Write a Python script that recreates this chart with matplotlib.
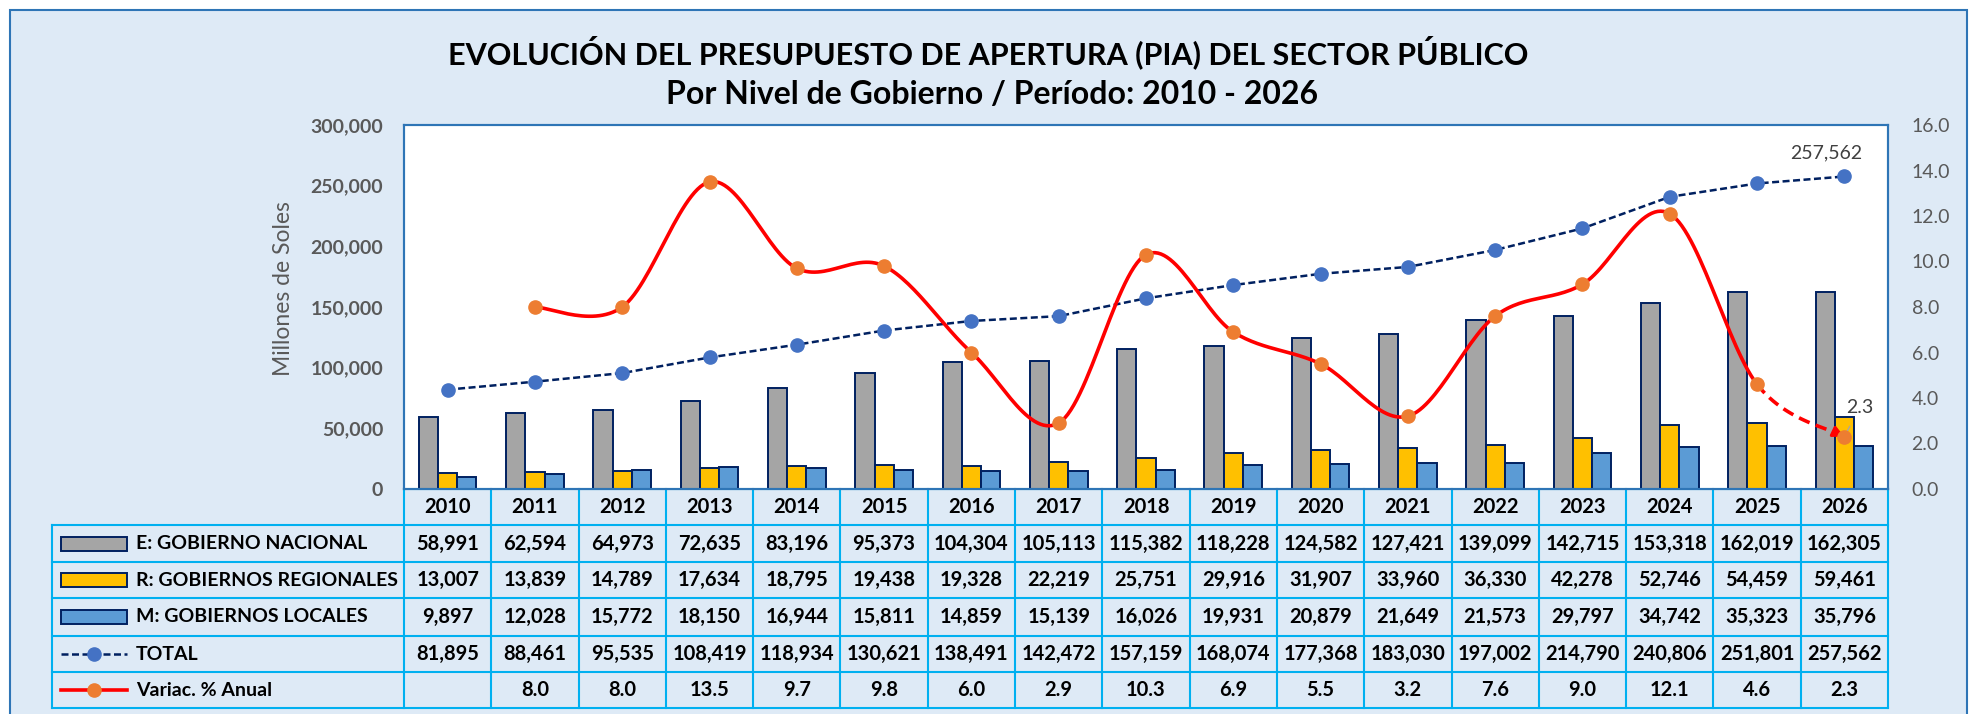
import numpy as np
import matplotlib
matplotlib.use('Agg')
import matplotlib.pyplot as plt
from matplotlib import transforms, font_manager
from matplotlib.patches import Rectangle

# data
years = [2010, 2011, 2012, 2013, 2014, 2015, 2016, 2017, 2018,
         2019, 2020, 2021, 2022, 2023, 2024, 2025, 2026]
nacional = [58991, 62594, 64973, 72635, 83196, 95373, 104304, 105113, 115382,
            118228, 124582, 127421, 139099, 142715, 153318, 162019, 162305]
regional = [13007, 13839, 14789, 17634, 18795, 19438, 19328, 22219, 25751,
            29916, 31907, 33960, 36330, 42278, 52746, 54459, 59461]
locales = [9897, 12028, 15772, 18150, 16944, 15811, 14859, 15139, 16026,
           19931, 20879, 21649, 21573, 29797, 34742, 35323, 35796]
total = [81895, 88461, 95535, 108419, 118934, 130621, 138491, 142472, 157159,
         168074, 177368, 183030, 197002, 214790, 240806, 251801, 257562]
variac = [None, 8.0, 8.0, 13.5, 9.7, 9.8, 6.0, 2.9, 10.3,
          6.9, 5.5, 3.2, 7.6, 9.0, 12.1, 4.6, 2.3]

row_labels = ['E: GOBIERNO NACIONAL', 'R: GOBIERNOS REGIONALES',
              'M: GOBIERNOS LOCALES', 'TOTAL', 'Variac. % Anual']

GRAY = '#A5A5A5'
YELLOW = '#FFC000'
BLUE = '#5B9BD5'
NAVY = '#002060'
MARK_BLUE = '#4472C4'
ORANGE = '#ED7D31'
BG = '#DEEAF6'
FRAME = '#2E75B6'
GRID = '#00B0F0'
TXT = '#595959'

names = {f.name for f in font_manager.fontManager.ttflist}
FONT = 'Liberation Sans Narrow' if 'Liberation Sans Narrow' in names else 'Lato'
plt.rcParams['font.family'] = [FONT, 'DejaVu Sans']

W, H = 1971, 714
fig = plt.figure(figsize=(W / 100, H / 100), dpi=100)

# pixel-space background layer
bg = fig.add_axes([0, 0, 1, 1], zorder=0)
bg.set_xlim(0, W)
bg.set_ylim(H, 0)
bg.axis('off')
bg.add_patch(Rectangle((10, 10), 1957, 720, facecolor=BG, edgecolor=FRAME, lw=1.5))

# plot area
L, R, T, B = 404, 1888, 125, 489
ax = fig.add_axes([L / W, 1 - B / H, (R - L) / W, (B - T) / H], zorder=1)
ax.set_facecolor('white')
x = np.arange(len(years))
w = 0.22
ax.bar(x - w, nacional, w, color=GRAY, edgecolor=NAVY, lw=1.4, zorder=2)
ax.bar(x, regional, w, color=YELLOW, edgecolor=NAVY, lw=1.4, zorder=2)
ax.bar(x + w, locales, w, color=BLUE, edgecolor=NAVY, lw=1.4, zorder=2)
ax.plot(x, total, color=NAVY, lw=1.8, dashes=(2.8, 1.4), marker='o', ms=9.5,
        mfc=MARK_BLUE, mec=MARK_BLUE, zorder=3)
ax.annotate('{:,}'.format(total[-1]), (x[-1], total[-1]), xytext=(-13, 17),
            textcoords='offset points', ha='center', va='center',
            fontsize=14, color='#404040')

ax.set_xlim(-0.5, len(years) - 0.5)
ax.set_ylim(0, 300000)
ax.set_yticks(np.arange(0, 300001, 50000))
ax.set_yticklabels(['{:,}'.format(v) for v in range(0, 300001, 50000)],
                   fontsize=14, fontweight='bold', color=TXT)
ax.set_xticks([])
ax.tick_params(axis='y', length=0, pad=15)
for s in ax.spines.values():
    s.set_color(FRAME)
    s.set_linewidth(1.5)

# variation curve (smoothed like the spreadsheet line)
ax2 = ax.twinx()
vx = np.array([i for i, v in enumerate(variac) if v is not None], dtype=float)
vy = np.array([v for v in variac if v is not None], dtype=float)
P = np.column_stack([vx, vy])
n = len(P)
t = np.linspace(0, 1, 30)[:, None]
segs = []
for i in range(n - 1):
    p0 = P[max(i - 1, 0)]
    p1 = P[i]
    p2 = P[i + 1]
    p3 = P[min(i + 2, n - 1)]
    c1 = p1 + (p2 - p0) / 6
    c2 = p2 - (p3 - p1) / 6
    seg = ((1 - t) ** 3) * p1 + 3 * ((1 - t) ** 2) * t * c1 + 3 * (1 - t) * t ** 2 * c2 + t ** 3 * p2
    segs.append(seg)
solid = np.vstack(segs[:-1])
ax2.plot(solid[:, 0], solid[:, 1], color='red', lw=2.6, zorder=3)
last = segs[-1]
ax2.plot(last[:-4, 0], last[:-4, 1], color='red', lw=2.6, dashes=(3.2, 1.8), zorder=3)
ax2.annotate('', xy=last[-1], xytext=last[-5],
             arrowprops=dict(arrowstyle='-|>', color='red', lw=2.2,
                             mutation_scale=16, shrinkA=0, shrinkB=0))
ax2.plot(vx, vy, ls='none', marker='o', ms=9.5, mfc=ORANGE, mec=ORANGE, zorder=4)
ax2.annotate('{:.1f}'.format(vy[-1]), (vx[-1], vy[-1]), xytext=(11, 21),
             textcoords='offset points', ha='center', va='center',
             fontsize=14, color='#404040',
             arrowprops=dict(arrowstyle='-', color='#A6A6A6', lw=1,
                             shrinkA=6, shrinkB=2))
ax2.set_ylim(0, 16)
ax2.set_yticks(np.arange(0, 16.1, 2))
ax2.set_yticklabels(['{:.1f}'.format(v) for v in np.arange(0, 16.1, 2)],
                    fontsize=14, color=TXT)
ax2.tick_params(axis='y', length=0, pad=17)
for s in ax2.spines.values():
    s.set_color(FRAME)
    s.set_linewidth(1.5)

fig.text(283 / W, 1 - 289 / H, 'Millones de Soles', rotation=90, ha='center',
         va='center', fontsize=16.5, color=TXT)

# titles
fig.text(988 / W, 1 - 52 / H,
         'EVOLUCIÓN DEL PRESUPUESTO DE APERTURA (PIA) DEL SECTOR PÚBLICO',
         ha='center', va='center', fontsize=22, fontweight='bold')
fig.text(992 / W, 1 - 94 / H, 'Por Nivel de Gobierno / Período: 2010 - 2026',
         ha='center', va='center', fontsize=23, fontweight='bold')

# data table below the plot: columns follow the x scale of the chart
tr = transforms.blended_transform_factory(ax.transData, bg.transData)
row_edges = [489, 525, 562, 598, 636, 672, 708]
tbl_left = 52
for yy in row_edges[1:]:
    bg.plot([tbl_left, R], [yy, yy], color=GRID, lw=1.5, zorder=1)
bg.plot([L, R], [row_edges[0], row_edges[0]], color=GRID, lw=1.5, zorder=1)
for i in range(len(years) + 1):
    ax.plot([i - 0.5, i - 0.5], [row_edges[0], row_edges[-1]], color=GRID, lw=1.5,
            transform=tr, clip_on=False, zorder=5)
bg.plot([tbl_left, tbl_left], [row_edges[1], row_edges[-1]], color=GRID, lw=1.5)

hdr_y = (row_edges[0] + row_edges[1]) / 2
for i, yr in enumerate(years):
    ax.text(i, hdr_y, str(yr), transform=tr, ha='center', va='center',
            fontsize=14.5, fontweight='bold', clip_on=False)

rows = [nacional, regional, locales, total]
for r, vals in enumerate(rows):
    cy = (row_edges[r + 1] + row_edges[r + 2]) / 2
    for i, v in enumerate(vals):
        ax.text(i, cy, '{:,}'.format(v), transform=tr, ha='center', va='center',
                fontsize=14.5, fontweight='bold', clip_on=False)
cy = (row_edges[5] + row_edges[6]) / 2
for i, v in enumerate(variac):
    if v is not None:
        ax.text(i, cy, '{:.1f}'.format(v), transform=tr, ha='center', va='center',
                fontsize=14.5, fontweight='bold', clip_on=False)

# legend keys in the first column
sym_l, sym_r = 61, 127
fills = [GRAY, YELLOW, BLUE]
for r in range(5):
    cy = (row_edges[r + 1] + row_edges[r + 2]) / 2
    if r < 3:
        bg.add_patch(Rectangle((sym_l, cy - 7), sym_r - sym_l, 14,
                               facecolor=fills[r], edgecolor=NAVY, lw=1.4))
    elif r == 3:
        bg.plot([sym_l, sym_r], [cy, cy], color=NAVY, lw=1.8, dashes=(2.8, 1.4))
        bg.plot([(sym_l + sym_r) / 2], [cy], 'o', ms=9.5, color=MARK_BLUE)
    else:
        bg.plot([sym_l, sym_r], [cy, cy], color='red', lw=2.6)
        bg.plot([(sym_l + sym_r) / 2], [cy], 'o', ms=9.5, color=ORANGE)
    bg.text(136, cy, row_labels[r], ha='left', va='center', fontsize=14,
            fontweight='bold')

fig.savefig('out.png', dpi=100)
